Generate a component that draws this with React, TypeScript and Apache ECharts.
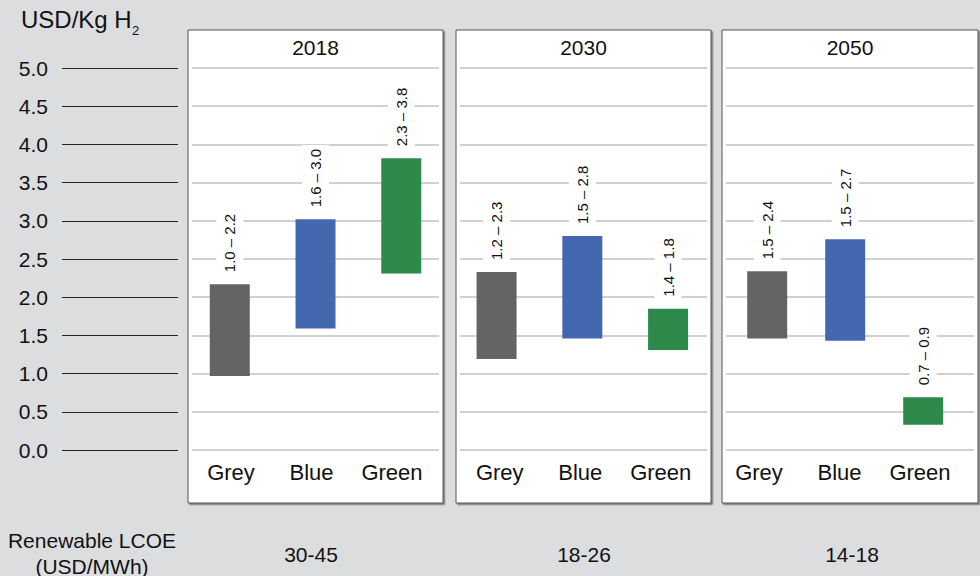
import React, { useEffect, useRef } from "react";
import * as echarts from "echarts";

// ---- data ----
const periods = ["2018", "2030", "2050"];
const categories = ["Grey", "Blue", "Green"];
const lowValues2018 = [0.97, 1.59, 2.31];
const highValues2018 = [2.17, 3.02, 3.82];
const lowValues2030 = [1.19, 1.46, 1.31];
const highValues2030 = [2.33, 2.8, 1.85];
const lowValues2050 = [1.46, 1.43, 0.33];
const highValues2050 = [2.34, 2.76, 0.69];
const rangeLabels2018 = ["1.0 – 2.2", "1.6 – 3.0", "2.3 – 3.8"];
const rangeLabels2030 = ["1.2 – 2.3", "1.5 – 2.8", "1.4 – 1.8"];
const rangeLabels2050 = ["1.5 – 2.4", "1.5 – 2.7", "0.7 – 0.9"];
const lcoeValues = ["30-45", "18-26", "14-18"];
const yMin = 0;
const yMax = 5;
const yStep = 0.5;
const yUnit = "USD/Kg H";
const yUnitSub = "2";
const lcoeTitle = ["Renewable LCOE", "(USD/MWh)"];

const lows = [lowValues2018, lowValues2030, lowValues2050];
const highs = [highValues2018, highValues2030, highValues2050];
const rangeLabels = [rangeLabels2018, rangeLabels2030, rangeLabels2050];

// ---- styling / layout ----
const FONT = "'Liberation Sans', Arial, Helvetica, sans-serif";
const barColors = ["#636466", "#4468b0", "#2d8a4b"];
const BG = "#dcdddf";
const plotTop = 68;
const plotHeight = 382;
const panelX = [188, 456, 722];
const panelW = [255, 255, 256];
const panelTop = 30;
const panelBottom = 503;
const lineGrid = [
  [192, 247],
  [460, 247],
  [726, 248],
];
const barGrid = [
  [186.9, 257.25],
  [453.7, 257.25],
  [728.2, 234],
];
const labelGrid = [
  [190.75, 241.5],
  [459.5, 241.5],
  [718.75, 241.5],
];
const lcoeX = [311, 584, 852];

export default function App() {
  const ref = useRef<HTMLDivElement>(null);

  useEffect(() => {
    if (!ref.current) return;
    const chart = echarts.init(ref.current, null, { renderer: "svg" });

    const grids: any[] = [];
    const xAxes: any[] = [];
    const yAxes: any[] = [];
    const series: any[] = [];

    const hiddenY = (gi: number, extra: any = {}) => ({
      gridIndex: gi,
      type: "value",
      min: yMin,
      max: yMax,
      interval: yStep,
      axisLine: { show: false },
      axisTick: { show: false },
      axisLabel: { show: false },
      splitLine: { show: false },
      ...extra,
    });

    // tick grid (left axis labels + black tick lines)
    grids.push({ left: 62, width: 116, top: plotTop, height: plotHeight });
    xAxes.push({ gridIndex: 0, type: "value", show: false });
    yAxes.push(
      hiddenY(0, {
        axisLabel: {
          show: true,
          fontFamily: FONT,
          fontSize: 21,
          color: "#111",
          margin: 14,
          formatter: (v: number) => v.toFixed(1),
        },
        splitLine: { show: true, lineStyle: { color: "#222", width: 1 } },
      })
    );

    periods.forEach((_, p) => {
      const gLine = grids.length;
      grids.push({ left: lineGrid[p][0], width: lineGrid[p][1], top: plotTop, height: plotHeight });
      xAxes.push({ gridIndex: gLine, type: "category", data: categories, show: false });
      yAxes.push(
        hiddenY(gLine, {
          splitLine: { show: true, lineStyle: { color: "#c2c2c2", width: 1.5 } },
        })
      );

      const gBar = grids.length;
      grids.push({ left: barGrid[p][0], width: barGrid[p][1], top: plotTop, height: plotHeight });
      xAxes.push({ gridIndex: gBar, type: "category", data: categories, show: false });
      yAxes.push(hiddenY(gBar));

      const gLab = grids.length;
      grids.push({ left: labelGrid[p][0], width: labelGrid[p][1], top: plotTop, height: plotHeight });
      xAxes.push({
        gridIndex: gLab,
        type: "category",
        data: categories,
        axisLine: { show: false },
        axisTick: { show: false },
        axisLabel: { fontFamily: FONT, fontSize: 22, color: "#111", margin: 11 },
      });
      yAxes.push(hiddenY(gLab));

      series.push({
        type: "bar",
        xAxisIndex: gBar,
        yAxisIndex: gBar,
        stack: "s" + p,
        barWidth: 40,
        silent: true,
        itemStyle: { color: "transparent" },
        data: lows[p],
        z: 3,
      });
      series.push({
        type: "bar",
        xAxisIndex: gBar,
        yAxisIndex: gBar,
        stack: "s" + p,
        barWidth: 40,
        data: highs[p].map((h, i) => ({
          value: +(h - lows[p][i]).toFixed(3),
          itemStyle: { color: barColors[i] },
        })),
        label: {
          show: true,
          position: "top",
          distance: 8,
          rotate: 90,
          align: "left",
          verticalAlign: "middle",
          fontFamily: FONT,
          fontSize: 15,
          color: "#111",
          backgroundColor: "#ffffff",
          padding: [6, 4],
          formatter: (prm: any) => rangeLabels[p][prm.dataIndex],
        },
        z: 3,
      });
    });

    const graphics: any[] = [];
    periods.forEach((year, p) => {
      graphics.push({
        type: "rect",
        z: -10,
        shape: { x: panelX[p], y: panelTop, width: panelW[p], height: panelBottom - panelTop },
        style: {
          fill: "#ffffff",
          stroke: "#555",
          lineWidth: 1,
          shadowColor: "rgba(0,0,0,0.45)",
          shadowOffsetX: 1.5,
          shadowOffsetY: 1.5,
          shadowBlur: 1,
        },
      });
      graphics.push({
        type: "text",
        z: 5,
        x: panelX[p] + panelW[p] / 2,
        y: 47,
        style: {
          text: year,
          fill: "#111",
          font: `21px ${FONT}`,
          textAlign: "center",
          textVerticalAlign: "middle",
        },
      });
      graphics.push({
        type: "text",
        z: 5,
        x: lcoeX[p],
        y: 554,
        style: {
          text: lcoeValues[p],
          fill: "#111",
          font: `21px ${FONT}`,
          textAlign: "center",
          textVerticalAlign: "middle",
        },
      });
    });
    graphics.push({
      type: "text",
      z: 5,
      x: 21,
      y: 19,
      style: { text: yUnit, fill: "#111", font: `24px ${FONT}`, textAlign: "left", textVerticalAlign: "middle" },
    });
    graphics.push({
      type: "text",
      z: 5,
      x: 132,
      y: 30,
      style: { text: yUnitSub, fill: "#111", font: `13px ${FONT}`, textAlign: "left", textVerticalAlign: "middle" },
    });
    lcoeTitle.forEach((t, i) => {
      graphics.push({
        type: "text",
        z: 5,
        x: 92,
        y: 540 + i * 26,
        style: { text: t, fill: "#111", font: `21px ${FONT}`, textAlign: "center", textVerticalAlign: "middle" },
      });
    });

    chart.setOption({
      animation: false,
      backgroundColor: BG,
      grid: grids,
      xAxis: xAxes,
      yAxis: yAxes,
      series,
      graphic: graphics,
    });

    return () => chart.dispose();
  }, []);

  return (
    <div
      ref={ref}
      style={{ position: "fixed", left: 0, top: 0, width: 980, height: 576 }}
    />
  );
}
